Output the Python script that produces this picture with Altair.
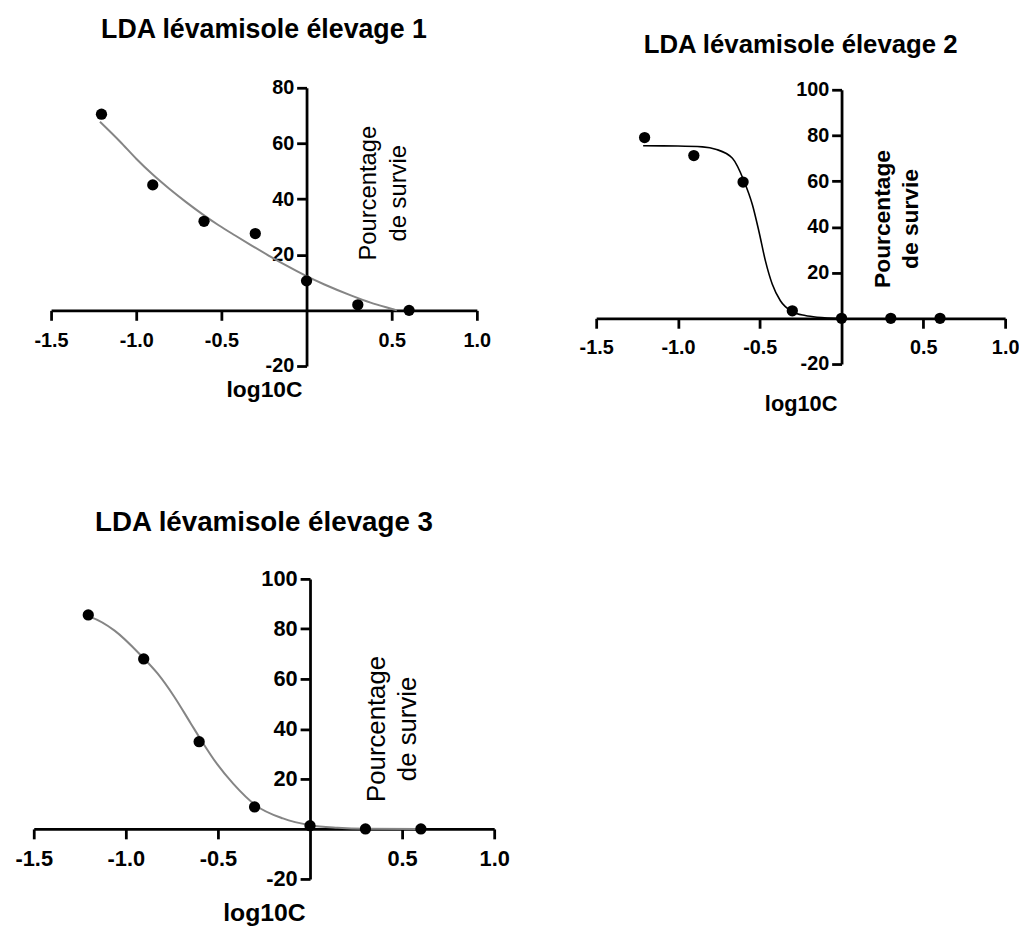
import altair as alt
import pandas as pd

FONT = "Liberation Sans, Arial, sans-serif"

# ---- data ----
x_log = [-1.204, -0.903, -0.602, -0.301, 0.0, 0.301, 0.602]
survie_1 = [70.5, 45.1, 32.0, 27.6, 10.6, 2.0, 0.0]
survie_2 = [79.1, 71.2, 59.6, 3.3, 0.0, 0.0, 0.0]
survie_3 = [85.6, 68.0, 34.9, 8.8, 1.3, 0.0, 0.0]

fit1_x = [-1.213, -1.097, -1.0, -0.903, -0.806, -0.709, -0.612, -0.516, -0.419, -0.322,
          -0.225, -0.128, 0.0, 0.105, 0.26, 0.376, 0.502, 0.53]
fit1_y = [67.8, 60.8, 54.5, 48.8, 43.7, 39.0, 34.6, 30.6, 26.9, 23.3,
          19.8, 16.4, 12.3, 9.3, 5.4, 2.8, 0.5, 0.0]

fit2_x = [-1.213, -1.0, -0.85, -0.77, -0.667, -0.596, -0.545, -0.505, -0.465, -0.424,
          -0.374, -0.303, -0.222, -0.15, 0.0]
fit2_y = [75.5, 75.4, 75.0, 74.0, 70.0, 60.0, 49.7, 38.0, 25.0, 15.0,
          7.7, 3.0, 1.2, 0.5, 0.0]

fit3_x = [-1.213, -1.187, -1.061, -0.918, -0.828, -0.738, -0.649, -0.591, -0.505, -0.416,
          -0.296, -0.147, 0.0, 0.15, 0.3, 0.6]
fit3_y = [85.2, 84.6, 79.3, 69.4, 62.2, 53.0, 42.4, 35.5, 26.0, 18.0,
          9.5, 4.2, 1.5, 0.5, 0.1, 0.0]

x_domain = [-1.5, 1.0]
x_ticks = [-1.5, -1.0, -0.5, 0.5, 1.0]
y_domain_1 = [-20, 80]
y_domain_23 = [-20, 100]
y_ticks_1 = [-20, 20, 40, 60, 80]
y_ticks_23 = [-20, 20, 40, 60, 80, 100]

titles = ["LDA lévamisole élevage 1", "LDA lévamisole élevage 2", "LDA lévamisole élevage 3"]
x_title = "log10C"
y_title = ["Pourcentage", "de survie"]

LABEL_FIX = "replace(datum.label, '\u2212', '-')"


def panel(pts_y, fx, fy, ydom, yticks, w, h, title, title_size, title_offset,
          curve_color, curve_width, tick_size, ytitle_size, ytitle_weight,
          ytitle_x, ytitle_y, ytitle_lh, xtitle_y, xtitle_size):
    pts = pd.DataFrame({"x": x_log, "y": pts_y})
    fit = pd.DataFrame({"x": fx, "y": fy})
    x0 = w * (0 - x_domain[0]) / (x_domain[1] - x_domain[0])
    y0 = h * (ydom[1] - 0) / (ydom[1] - ydom[0])
    xscale = alt.Scale(domain=x_domain, nice=False, zero=False)
    yscale = alt.Scale(domain=ydom, nice=False, zero=False)
    common = dict(
        grid=False, domainColor="black", domainWidth=2.8, tickColor="black",
        tickWidth=2.8, tickSize=10, labelFont=FONT, labelFontSize=tick_size,
        labelFontWeight="bold", labelColor="black", labelFlush=False,
        labelOverlap=False, titleFont=FONT, titleColor="black", labelExpr=LABEL_FIX,
    )
    xaxis = alt.Axis(values=x_ticks, format=".1f", offset=-(h - y0), labelPadding=10,
                     title=x_title, titleFontSize=xtitle_size, titleFontWeight="bold",
                     titleY=xtitle_y, titleBaseline="middle", **common)
    yaxis = alt.Axis(values=yticks, format="d", offset=-x0, labelPadding=3,
                     title=y_title, titleFontSize=ytitle_size, titleFontWeight=ytitle_weight,
                     titleAngle=270, titleX=ytitle_x, titleY=ytitle_y, titleAlign="center",
                     titleBaseline="middle", titleLineHeight=ytitle_lh, **common)
    line = alt.Chart(fit).mark_line(color=curve_color, strokeWidth=curve_width,
                                    interpolate="monotone").encode(
        x=alt.X("x:Q", scale=xscale, axis=xaxis),
        y=alt.Y("y:Q", scale=yscale, axis=yaxis),
    )
    dots = alt.Chart(pts).mark_circle(color="black", opacity=1, size=130).encode(
        x=alt.X("x:Q", scale=xscale),
        y=alt.Y("y:Q", scale=yscale),
    )
    return alt.layer(line, dots).properties(
        width=w, height=h,
        title=alt.TitleParams(text=title, font=FONT, fontSize=title_size, fontWeight="bold",
                              color="black", anchor="middle", frame="group",
                              offset=title_offset),
    )


p1 = panel(survie_1, fit1_x, fit1_y, y_domain_1, y_ticks_1, 430, 281, titles[0], 27, 34,
           "#858585", 2, 20, 24, "normal", 63, 106, 30, 80, 23)
p2 = panel(survie_2, fit2_x, fit2_y, y_domain_23, y_ticks_23, 413, 277, titles[1], 26, 22,
           "black", 1.6, 20, 23, "bold", 41, 130, 29, 86, 22)
p3 = panel(survie_3, fit3_x, fit3_y, y_domain_23, y_ticks_23, 465, 303, titles[2], 28, 31,
           "#858585", 2, 22, 26, "normal", 67, 151, 32, 84, 25)

chart = alt.concat(
    p1, p2, p3, columns=2, bounds="flush", center=True,
    spacing=alt.RowColnumber(row=215, column=103),
).properties(
    padding={"left": 7, "top": 4, "right": 0, "bottom": 0},
).configure_view(strokeWidth=0)

chart.save("out.html", embed_options={"renderer": "svg", "actions": False})
